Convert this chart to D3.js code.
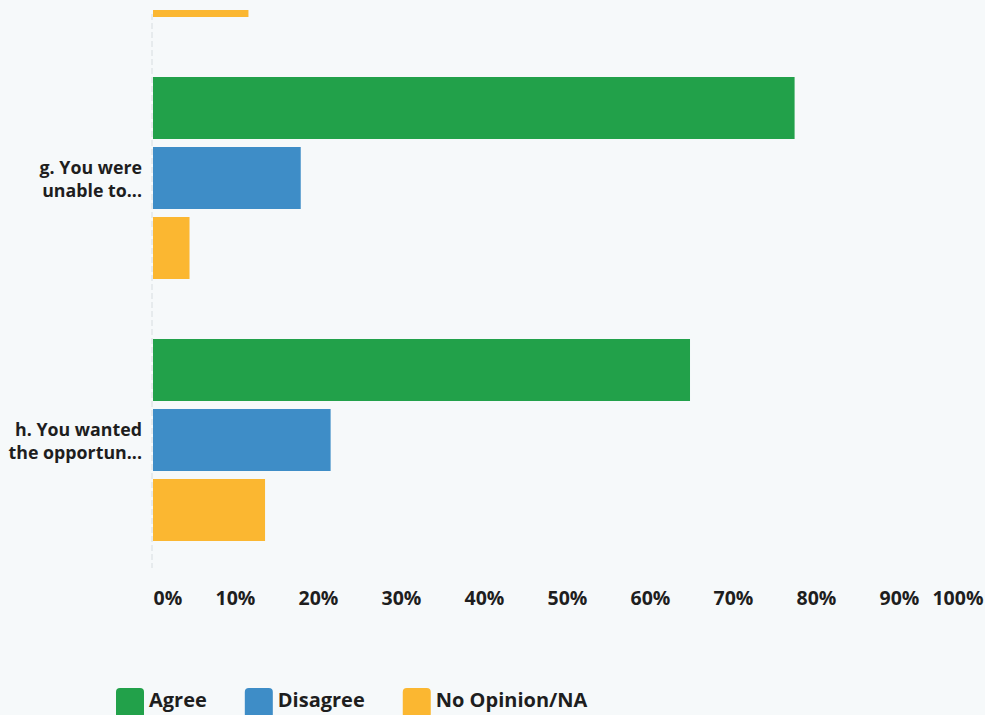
<!DOCTYPE html>
<html>
<head>
<meta charset="utf-8">
<script src="https://cdn.jsdelivr.net/npm/d3@7/dist/d3.min.js"></script>
<style>
  html, body { margin: 0; padding: 0; background: #f6f9fa; }
  svg { display: block; }
  text { font-family: "Open Sans", "DejaVu Sans", sans-serif; font-weight: 700; fill: #1e1e1e; }
</style>
</head>
<body>
<svg id="chart" width="985" height="715"></svg>
<script>
// ---- data ----
const categories = ["f.", "g. You were unable to...", "h. You wanted the opportun..."];
const labelLines = [["f."], ["g. You were", "unable to..."], ["h. You wanted", "the opportun..."]];
const seriesNames = ["Agree", "Disagree", "No Opinion/NA"];
const agree = [null, 0.773, 0.647];
const disagree = [null, 0.178, 0.214];
const noOpinion = [0.115, 0.044, 0.135];
const tickValues = [0, 0.1, 0.2, 0.3, 0.4, 0.5, 0.6, 0.7, 0.8, 0.9, 1.0];
const colors = ["#22a14a", "#3e8dc7", "#fbb731"];

const seriesValues = [agree, disagree, noOpinion];
const W = 985, H = 715;
const svg = d3.select("#chart");

const x = d3.scaleLinear().domain([0, 1]).range([152, 982]);
const y0 = d3.scaleBand().domain(categories).range([-215, 571])
  .paddingInner(60 / 262).paddingOuter(0.1145);
const y1 = d3.scaleBand().domain(seriesNames).range([0, y0.bandwidth()])
  .paddingInner(8 / 70).paddingOuter(0);

// clip to plot area (chart is cut off at the top)
svg.append("defs").append("clipPath").attr("id", "plotclip")
  .append("rect").attr("x", 0).attr("y", 10).attr("width", W).attr("height", 560);

// zero line
svg.append("line")
  .attr("x1", x(0)).attr("x2", x(0))
  .attr("y1", 14).attr("y2", 568)
  .attr("stroke", "#dde1e4").attr("stroke-width", 1.2)
  .attr("stroke-dasharray", "6,3");

const plot = svg.append("g").attr("clip-path", "url(#plotclip)");
const rows = [];
categories.forEach((c, ci) => {
  seriesNames.forEach((s, si) => {
    const v = seriesValues[si][ci];
    if (v != null) rows.push({ c, s, si, v });
  });
});
plot.selectAll("rect.bar").data(rows).join("rect")
  .attr("class", "bar")
  .attr("x", x(0) + 1)
  .attr("y", d => y0(d.c) + y1(d.s))
  .attr("width", d => x(d.v) - x(0))
  .attr("height", y1.bandwidth())
  .attr("fill", d => colors[d.si]);

// category labels (only those in view)
categories.forEach((c, ci) => {
  const cy = y0(c) + y0.bandwidth() / 2;
  if (cy < 20 || cy > H) return;
  const t = svg.append("text")
    .attr("text-anchor", "end")
    .attr("font-size", 17.8);
  labelLines[ci].forEach((ln, li) => {
    t.append("tspan").attr("x", 142).attr("y", cy - 4 + li * 23).text(ln);
  });
});

// x axis
const xAxis = d3.axisBottom(x).tickValues(tickValues).tickFormat(d3.format(".0%")).tickSize(0);
const ax = svg.append("g").attr("transform", "translate(0,588)").call(xAxis);
ax.select(".domain").remove();
ax.selectAll("text")
  .attr("font-size", 19.5).attr("fill", "#1e1e1e")
  .attr("font-family", "'Open Sans', sans-serif").attr("font-weight", 700)
  .attr("dy", "0.71em")
  .attr("text-anchor", (d, i) => i === 0 ? "start" : (i === tickValues.length - 1 ? "end" : "middle"))
  .attr("x", (d, i) => i === 0 ? 1 : (i === tickValues.length - 1 ? 1 : 0));

// legend
const leg = svg.append("g");
let lx = 116;
seriesNames.forEach((s, i) => {
  leg.append("rect").attr("x", lx).attr("y", 688).attr("width", 28).attr("height", 30)
    .attr("rx", 4).attr("fill", colors[i]);
  const t = leg.append("text").attr("x", lx + 33).attr("y", 707).attr("font-size", 20).text(s);
  const w = t.node().getComputedTextLength();
  lx = lx + 33 + w + 38;
});
</script>
</body>
</html>
